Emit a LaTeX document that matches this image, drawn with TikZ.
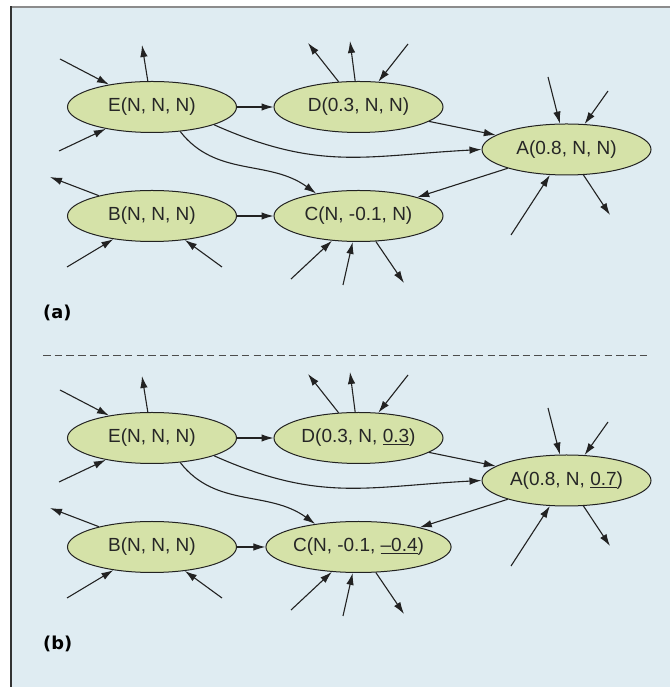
\documentclass[tikz,border=0pt]{standalone}
\usepackage{fontspec}
\setmainfont{Liberation Sans}
\newfontfamily\labfont{DejaVu Sans}
\usetikzlibrary{arrows.meta, shapes.geometric}

\definecolor{panelbg}{RGB}{223,236,242}
\definecolor{nodefill}{RGB}{213,226,168}
\definecolor{edgegray}{RGB}{34,34,34}

\tikzset{
    state/.style={ellipse, draw=edgegray, line width=1pt, fill=nodefill,
        minimum width=169pt, minimum height=51pt, inner sep=0pt,
        font=\fontsize{19}{22}\selectfont, text=black!85},
    link/.style={draw=edgegray, line width=1.1pt, -{Latex[length=12pt, width=7.5pt]}},
    panellabel/.style={anchor=west, inner sep=0pt, font=\labfont\bfseries\fontsize{17.8}{20}\selectfont}
}

% one panel of the network; #1 = suffix of the node names
\newcommand{\netpanel}[4]{
    \node[state] (E#1) at (152,580) {E(N, N, N)};
    \node[state] (D#1) at (358.5,580) {#2};
    \node[state] (A#1) at (566.5,537.5) {#3};
    \node[state] (B#1) at (152,471) {B(N, N, N)};
    \node[state] (C#1) at (358.5,471) {#4};

    % free ends of the short arrows
    \coordinate (e1#1) at (60,628);
    \coordinate (e2#1) at (142,642);
    \coordinate (e3#1) at (59,536);
    \coordinate (d1#1) at (308,644);
    \coordinate (d2#1) at (350,646);
    \coordinate (d3#1) at (408,643);
    \coordinate (a1#1) at (548,610);
    \coordinate (a2#1) at (608,596);
    \coordinate (a3#1) at (511,452);
    \coordinate (a4#1) at (610,472);
    \coordinate (b1#1) at (50,510);
    \coordinate (b2#1) at (67,420);
    \coordinate (b3#1) at (222,420);
    \coordinate (c1#1) at (291,408);
    \coordinate (c2#1) at (343,402);
    \coordinate (c3#1) at (404,404);

    \draw[link] (e1#1) -- (E#1);
    \draw[link] (E#1) -- (e2#1);
    \draw[link] (e3#1) -- (E#1);
    \draw[link] (D#1) -- (d1#1);
    \draw[link] (D#1) -- (d2#1);
    \draw[link] (d3#1) -- (D#1);
    \draw[link] (a1#1) -- (A#1);
    \draw[link] (a2#1) -- (A#1);
    \draw[link] (a3#1) -- (A#1);
    \draw[link] (A#1) -- (a4#1);
    \draw[link] (B#1) -- (b1#1);
    \draw[link] (b2#1) -- (B#1);
    \draw[link] (b3#1) -- (B#1);
    \draw[link] (c1#1) -- (C#1);
    \draw[link] (c2#1) -- (C#1);
    \draw[link] (C#1) -- (c3#1);

    % main links
    \draw[link] (E#1) -- (D#1);
    \draw[link] (B#1) -- (C#1);
    \draw[link] (D#1) -- (A#1);
    \draw[link] (A#1) -- (C#1);
    \draw[link] (E#1.-16) to[out=-24, in=183, looseness=1.1] (A#1.west);
    \draw[link] (E#1.-41) to[out=-52, in=144] (C#1.152);
}

\begin{document}
\begin{tikzpicture}[x=1pt, y=1pt]
    \useasboundingbox (0,0) rectangle (670,687);
    \fill[panelbg] (11,0) rectangle (670,680);
    \draw[gray!90, line width=1.5pt] (11,680) -- (670,680);
    \draw[black!80, line width=1.2pt] (11,0) -- (11,680.75);

    % (a)
    \netpanel{a}{D(0.3, N, N)}{A(0.8, N, N)}{C(N, -0.1, N)}
    \node[panellabel] (laba) at (43,374) {(a)};

    \draw[black!70, line width=1pt, dash pattern=on 7.5pt off 4.2pt] (43,331.3) -- (647,331.3);

    % (b)
    \begin{scope}[yshift=-331pt]
        \netpanel{b}{D(0.3, N, \underline{0.3})}{A(0.8, N, \underline{0.7})}{C(N, -0.1, \underline{–0.4})}
        \node[panellabel] (labb) at (43,374) {(b)};
    \end{scope}
\end{tikzpicture}
\end{document}
